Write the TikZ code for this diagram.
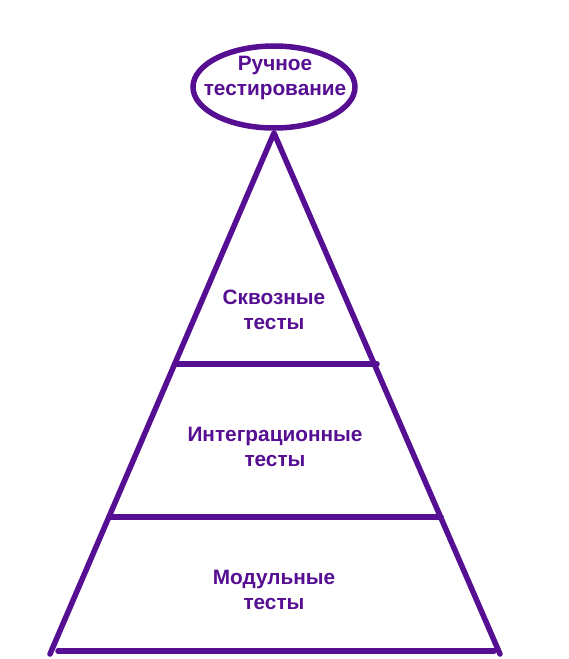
\documentclass[tikz,border=0pt]{standalone}
\usepackage{fontspec}
\setmainfont{Liberation Sans}
\definecolor{pyr}{HTML}{560E92}
\begin{document}
\begin{tikzpicture}[x=1pt,y=-1pt,
  edge/.style={draw=pyr,line width=5.5pt,line cap=round},
  lbl/.style={text=pyr,font=\bfseries\fontsize{20.8}{25}\selectfont,align=center,inner sep=0pt}]
\useasboundingbox (0,0) rectangle (568,659);
\coordinate (apex) at (274,133);
\coordinate (bl) at (50,654);
\coordinate (br) at (500,654);
\coordinate (b1) at (58,651);
\coordinate (b2) at (494,651);
\coordinate (l1) at (175,364);
\coordinate (r1) at (377,364);
\coordinate (l2) at (109,517);
\coordinate (r2) at (441,517);
\draw[edge,line join=round] (bl) -- (apex) -- (br);
\draw[edge] (b1) -- (b2);
\draw[edge] (l1) -- (r1);
\draw[edge] (l2) -- (r2);
\draw[draw=pyr,line width=5.5pt] (274,87) ellipse [x radius=81, y radius=41];
\node[lbl] (top) at (275,78) {Ручное\\тестирование};
\node[lbl] (e2e) at (274,310) {Сквозные\\тесты};
\node[lbl] (int) at (275,447) {Интеграционные\\тесты};
\node[lbl] (unit) at (274,590) {Модульные\\тесты};
\end{tikzpicture}
\end{document}
